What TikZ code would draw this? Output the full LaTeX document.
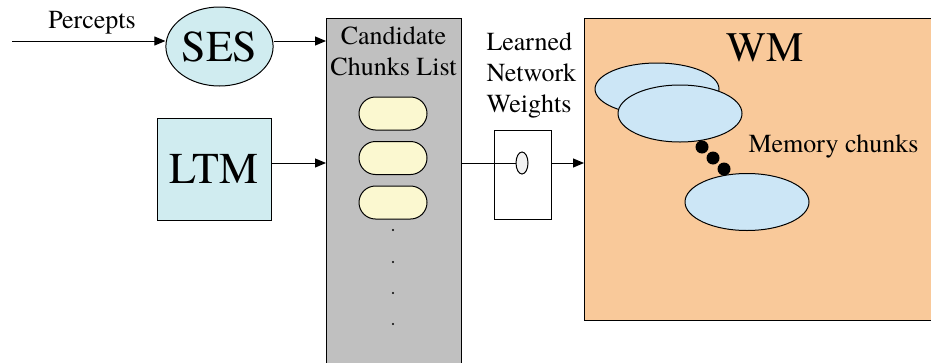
\documentclass[tikz,border=0pt]{standalone}
\usepackage{fontspec}
\setmainfont{TeX Gyre Termes}
\newfontfamily\tnr{TeX Gyre Termes}
\usetikzlibrary{arrows.meta,shapes.misc,shapes.geometric}
\definecolor{cyanfill}{HTML}{D0ECF0}
\definecolor{grayfill}{HTML}{C0C0C0}
\definecolor{chunkfill}{HTML}{FBF8D0}
\definecolor{peach}{HTML}{F9C99A}
\definecolor{memblue}{HTML}{CCE6F6}
\begin{document}
\begin{tikzpicture}[x=1pt,y=-1pt,line width=1pt,
  arr/.style={-{Triangle[length=11pt,width=9pt]}},
  txt/.style={inner sep=0pt,font=\tnr\fontsize{26}{31}\selectfont},
  bigtxt/.style={inner sep=0pt,font=\tnr\fontsize{44}{44}\selectfont},
  chunk/.style={draw,rounded rectangle,fill=chunkfill,minimum width=68pt,minimum height=33pt,inner sep=0pt},
  mem/.style={draw,ellipse,fill=memblue,minimum width=124pt,inner sep=0pt},
  dotn/.style={circle,fill=black,minimum size=13pt,inner sep=0pt},
  smalldot/.style={circle,fill=black,minimum size=2.4pt,inner sep=0pt}]
\useasboundingbox (0,0) rectangle (931,362);
\clip (0,0) rectangle (931,362);
\fill[white] (0,0) rectangle (931,362);
% coordinates for rows
\coordinate (top) at (12,41);
\coordinate (row) at (0,163);
% SES
\node[draw,ellipse,fill=cyanfill,minimum width=101pt,minimum height=79pt,inner sep=0pt,bigtxt] (ses) at (219.5,46.5) {SES};
\node[txt,anchor=base] (percepts) at (92,28) {Percepts};
% LTM
\node[draw,fill=cyanfill,minimum width=114pt,minimum height=102pt,inner sep=0pt,bigtxt] (ltm) at (214,169) {LTM};
% Candidate list
\node[draw,fill=grayfill,minimum width=135pt,minimum height=360pt,anchor=north west,inner sep=0pt] (cand) at (326,18) {};
\node[txt,align=center,anchor=north] (candtxt) at (393.5,26) {Candidate\\Chunks List};
\node[chunk] (c1) at (393,113.5) {};
\node[chunk] (c2) at (393,158) {};
\node[chunk] (c3) at (393,202.5) {};
\node[smalldot] (d1) at (393,230) {};
\node[smalldot] (d2) at (393,262) {};
\node[smalldot] (d3) at (393,293) {};
\node[smalldot] (d4) at (393,324) {};
% weights
\node[txt,align=left,anchor=north west] (lnw) at (486,32) {Learned\\Network\\Weights};
\node[draw,fill=white,minimum width=57pt,minimum height=89pt,anchor=north west,inner sep=0pt] (wbox) at (494,130) {};
\node[draw,ellipse,fill=black!5,minimum width=12pt,minimum height=22pt,inner sep=0pt] (wel) at (522,163) {};
% WM
\node[draw,fill=peach,minimum width=400pt,minimum height=302pt,anchor=north west,inner sep=0pt] (wm) at (584,18) {};
\node[inner sep=0pt,font=\tnr\fontsize{42}{42}\selectfont] (wmtxt) at (765,48) {WM};
\node[mem,minimum height=52pt] (m1) at (657,89) {};
\node[mem,minimum height=57pt] (m2) at (680,113.5) {};
\node[mem,minimum height=57pt] (m3) at (747,202) {};
\node[dotn] (b1) at (702,147) {};
\node[dotn] (b2) at (713,158) {};
\node[dotn] (b3) at (724,169) {};
\node[txt,anchor=base west] (memtxt) at (748,152) {Memory chunks};
% connectors
\draw[arr] (top) -- (ses.west |- top);
\draw[arr] (ses.east |- top) -- (cand.west |- top);
\draw[arr] (ltm.east |- row) -- (cand.west |- row);
\draw (cand.east |- row) -- (wel.west);
\draw[arr] (wbox.east |- row) -- (wm.west |- row);
\end{tikzpicture}
\end{document}
